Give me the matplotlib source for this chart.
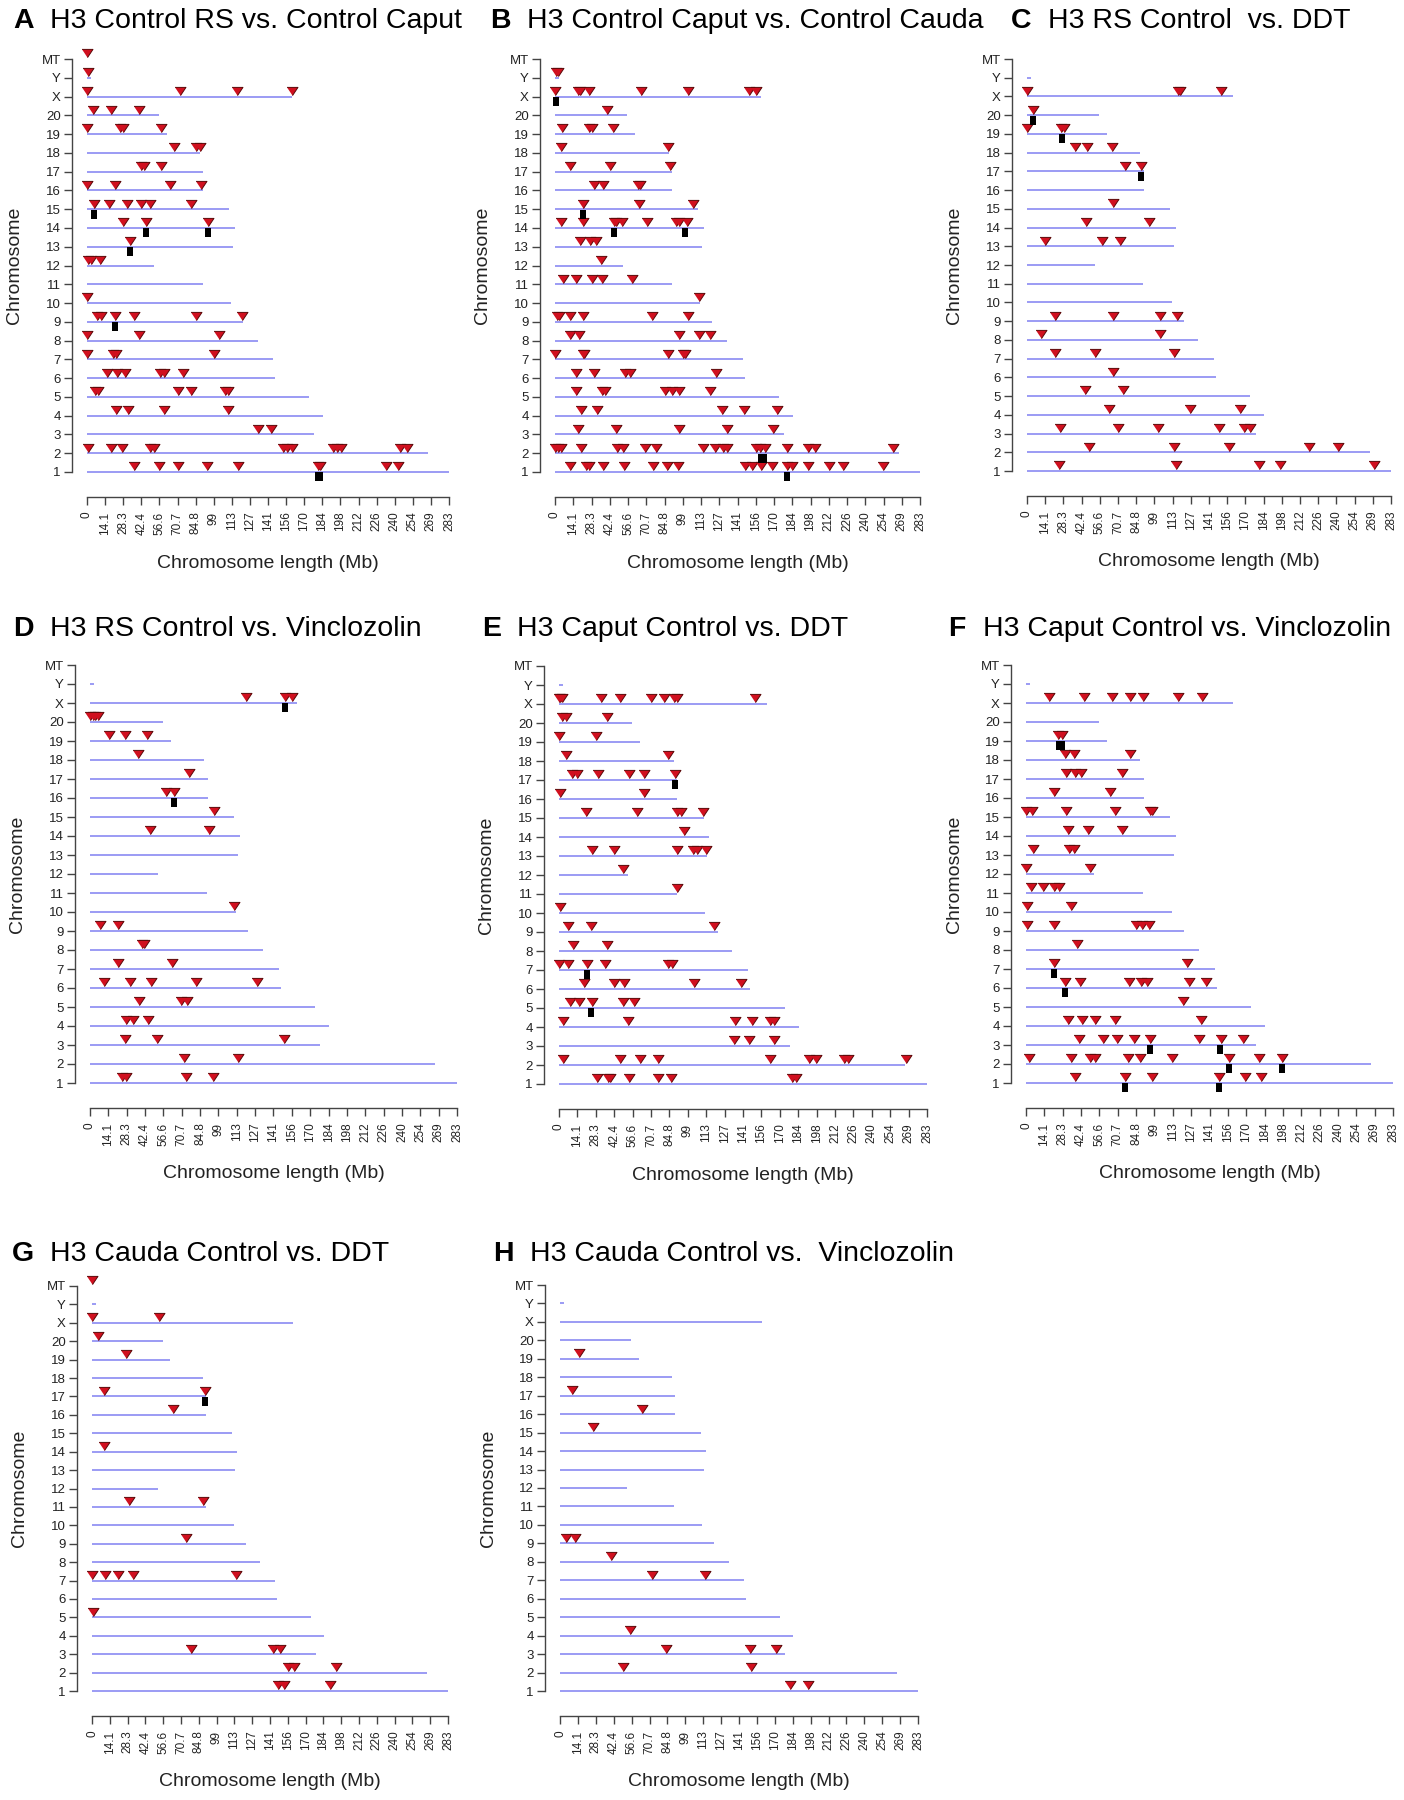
import numpy as np
import matplotlib
matplotlib.use("Agg")
import matplotlib.pyplot as plt

plt.rcParams["font.family"] = ["Liberation Sans", "DejaVu Sans"]

# chromosome order (bottom to top) and lengths in Mb (rat genome)
chrom_names = [str(i) for i in range(1, 21)] + ["X", "Y", "MT"]
chrom_len = [282.8, 266.4, 177.7, 184.2, 173.7, 147.0, 145.7, 133.3, 122.1, 112.6,
             90.5, 52.7, 114.0, 115.5, 111.2, 90.7, 90.8, 88.2, 62.3, 56.2,
             160.0, 3.3, 0.02]

xtick_vals = [283 * k / 20 for k in range(21)]
xtick_labels = ["0", "14.1", "28.3", "42.4", "56.6", "70.7", "84.8", "99", "113", "127",
                "141", "156", "170", "184", "198", "212", "226", "240", "254", "269", "283"]

# DMR sites (Mb) per chromosome, and DMR clusters
a_sites = {"MT": [0], "Y": [1], "X": [0, 73, 117, 160],
           "20": [5, 19, 40.5], "19": [0, 26, 28, 58], "18": [68, 85.5, 88], "17": [42.5, 44.5, 58],
           "16": [0, 21.5, 64.5, 89], "15": [5.5, 17.5, 31, 42, 49.5, 81], "14": [28, 46.5, 94.5],
           "13": [33.5], "12": [1, 3, 10], "10": [0], "9": [8, 11, 21.5, 37, 85, 121],
           "8": [0, 40.5, 103], "7": [0, 20, 22.5, 99], "6": [15.5, 23.5, 30, 57, 60, 75],
           "5": [6.5, 8.5, 71, 81, 107.5, 110], "4": [23, 32, 60, 110.5], "3": [134, 144],
           "2": [0.5, 19, 27.5, 49.5, 52, 153, 156, 160.5, 192, 195.5, 198.5, 245, 250],
           "1": [37, 56, 71.5, 94, 118, 180.5, 182.5, 234, 243.5]}
a_clusters = {"15": [5.5], "14": [46.5, 94.5], "13": [33.5], "9": [21.5], "1": [180.5, 182]}

b_sites = {"Y": [0.5, 2], "X": [0, 17.5, 19, 26, 66.5, 103.5, 150.5, 155.5], "20": [40.5],
           "19": [5.5, 26, 29, 45], "18": [5, 87.5], "17": [11.5, 43, 89], "16": [30, 37.5, 64.5, 66],
           "15": [22, 65, 107], "14": [4.5, 21.5, 45.5, 47, 52, 71, 94, 96, 102], "13": [19, 27, 32],
           "12": [35.5], "11": [6.5, 16, 29, 36.5, 60], "10": [112], "9": [1.5, 3, 11.5, 22, 75, 103],
           "8": [11.5, 18.5, 96.5, 112, 120.5], "7": [0, 21.5, 22.5, 88, 99, 100.5],
           "6": [16, 30, 54, 58, 125], "5": [16, 36.5, 39, 85, 91, 96.5, 120.5],
           "4": [20.5, 32.5, 129.5, 146.5, 172.5], "3": [17.5, 47, 96, 133, 169],
           "2": [0, 2.5, 5, 20.5, 48, 52.5, 70, 78, 114.5, 124, 130.5, 133, 156, 159, 163,
                 179.5, 196.5, 201.5, 262],
           "1": [11.5, 24, 26.5, 37.5, 53.5, 76, 86.5, 95.5, 147, 152.5, 160, 168.5, 179.5,
                 183.5, 196, 212.5, 223.5, 254]}
b_clusters = {"X": [0.5], "15": [21.5], "14": [45.5, 101], "2": [160, 162], "1": [179.5]}

c_sites = {"X": [0, 117.5, 119, 150.5], "20": [5], "19": [0, 26.5, 28.5], "18": [37, 47, 66],
           "17": [76.5, 89], "15": [66.5], "14": [46, 95], "13": [14, 58, 72],
           "9": [22, 67, 103.5, 116.5], "8": [10.5, 103.5], "7": [22, 53, 114.5], "6": [66.5],
           "5": [45, 74.5], "4": [63.5, 126.5, 165.5], "3": [26, 70.5, 102, 149.5, 169, 173.5],
           "2": [48.5, 114.5, 157, 219.5, 242], "1": [24.5, 116, 180, 196.5, 269.5]}
c_clusters = {"20": [5], "19": [27.5], "17": [89]}

d_sites = {"X": [120, 150.5, 156], "20": [0, 2, 4, 6], "19": [14.5, 27, 44], "18": [37],
           "17": [76.5], "16": [58.5, 64.5], "15": [95.5], "14": [46.5, 91.5], "10": [111],
           "9": [8, 21.5], "8": [40, 41.5], "7": [21.5, 63.5], "6": [11, 31, 47, 81.5, 128.5],
           "5": [38, 70.5, 74.5], "4": [27.5, 33, 44.5], "3": [27, 52, 149.5], "2": [72.5, 114.5],
           "1": [25, 28, 74, 95]}
d_clusters = {"X": [150.5], "16": [64.5]}

e_sites = {"X": [0, 1, 2.5, 32.5, 47, 70.5, 80.5, 88.5, 91, 150.5], "20": [2.5, 5, 37],
           "19": [0, 28.5], "18": [5, 84], "17": [10, 13.5, 30, 53.5, 65.5, 89.5], "16": [0.5, 65],
           "15": [21, 60, 90.5, 93.5, 110.5], "14": [96.5], "13": [25, 42.5, 90.5, 103, 106, 113],
           "12": [49], "11": [90.5], "10": [0.5], "9": [7, 24.5, 119], "8": [10.5, 37],
           "7": [0, 7, 21.5, 35, 84, 87], "6": [19.5, 42, 50, 104, 140], "5": [8.5, 15.5, 25, 49.5, 58],
           "4": [3, 53, 135.5, 148.5, 162.5, 165], "3": [134.5, 146, 165.5],
           "2": [3, 47, 62, 76.5, 162.5, 192.5, 197.5, 219, 222.5, 267],
           "1": [29.5, 37.5, 39, 54, 76.5, 86, 179, 182.5]}
e_clusters = {"17": [89.5], "7": [21.5], "5": [24.5]}

f_sites = {"X": [17.5, 44.5, 66, 80, 90, 117, 135.5], "19": [25, 28], "18": [30, 37, 80],
           "17": [31, 38, 42.5, 74], "16": [21.5, 64.5], "15": [0, 4.5, 31, 69, 95.5, 97.5],
           "14": [32.5, 48, 74], "13": [5.5, 33, 37], "12": [0, 49], "11": [3.5, 13, 21.5, 25.5],
           "10": [0.5, 34.5], "9": [1, 21.5, 84.5, 89.5, 95], "8": [39.5], "7": [21.5, 124.5],
           "6": [30, 41.5, 79.5, 89, 93.5, 125.5, 139], "5": [121], "4": [32.5, 43.5, 53, 69, 135],
           "3": [41, 59.5, 70, 83.5, 96, 133.5, 150, 167.5],
           "2": [2, 34.5, 49, 53.5, 78.5, 88, 112.5, 156.5, 179.5, 197.5],
           "1": [37.5, 76.5, 97.5, 149, 169, 181.5]}
f_clusters = {"19": [25.5, 27.5], "7": [21.5], "6": [30], "3": [96, 149.5], "2": [156.5, 197.5],
              "1": [76.5, 148.5]}

g_sites = {"MT": [0], "X": [0, 53.5], "20": [5], "19": [27], "17": [9.5, 89.5], "16": [64.5],
           "14": [9.5], "11": [29.5, 88], "9": [75], "7": [0, 10, 21, 32.5, 114.5], "5": [0.5],
           "3": [79, 144, 149.5], "2": [155.5, 160.5, 194], "1": [148, 152.5, 189.5]}
g_clusters = {"17": [89.5]}

h_sites = {"19": [15], "17": [9.5], "16": [64.5], "15": [26], "9": [4.5, 12], "8": [40],
           "7": [73, 114.5], "4": [55], "3": [83.5, 150, 170.5], "2": [49.5, 151], "1": [181.5, 196]}
h_clusters = {}

W, H = 1404, 1800
LINE_COLOR = "#8a8af2"
TRI = [(-1, 0.75), (1, 0.75), (0, -0.75)]
BAR = [(-0.35, 0), (0.35, 0), (0.35, -1), (-0.35, -1)]


def draw_panel(fig, box, letter, letter_x, title, title_x, title_y, sites, clusters):
    x0, x1, ytop, ybot = box
    ax = fig.add_axes([x0 / W, 1 - ybot / H, (x1 - x0) / W, (ybot - ytop) / H])
    ys = np.arange(1, len(chrom_names) + 1)
    ax.hlines(ys, 0, chrom_len, color=LINE_COLOR, lw=1.2, zorder=1, clip_on=False)
    for name, pos in sites.items():
        y = chrom_names.index(name) + 1
        ax.scatter(pos, [y + 0.3] * len(pos), marker=TRI, s=62, facecolor="#d0101f",
                   edgecolor="#5a0808", linewidths=0.7, zorder=3, clip_on=False)
    for name, pos in clusters.items():
        y = chrom_names.index(name) + 1
        ax.scatter(pos, [y - 0.02] * len(pos), marker=BAR, s=180, color="black",
                   linewidths=0, zorder=4, clip_on=False)

    ax.set_xlim(0, 283)
    ax.set_ylim(1, 23)
    ax.patch.set_visible(False)
    for s in ["top", "right"]:
        ax.spines[s].set_visible(False)
    ax.spines["left"].set_position(("outward", 11))
    ax.spines["bottom"].set_position(("outward", 18))
    ax.spines["left"].set_bounds(1, 23)
    ax.spines["bottom"].set_bounds(0, 283)
    for s in ["left", "bottom"]:
        ax.spines[s].set_color("#444444")
        ax.spines[s].set_linewidth(1.0)
    ax.set_xticks(xtick_vals)
    ax.set_xticklabels(xtick_labels, rotation=90, fontsize=8.5, color="#222222")
    ax.set_yticks(ys)
    ax.set_yticklabels(chrom_names, fontsize=9.5, color="#222222")
    ax.tick_params(axis="x", length=5.5, width=1.0, color="#444444", pad=5)
    ax.tick_params(axis="y", length=6, width=1.0, color="#444444", pad=2)

    fig.text(letter_x / W, 1 - title_y / H, letter, fontsize=20.5, fontweight="bold", va="center")
    fig.text(title_x / W, 1 - title_y / H, title, fontsize=20.5, va="center")
    fig.text((x0 + x1) / 2 / W, 1 - (ybot + 91) / H, "Chromosome length (Mb)",
             fontsize=14, ha="center", va="center", color="#222222")
    fig.text((x0 - 72) / W, 1 - (ytop + ybot) / 2 / H, "Chromosome", rotation=90,
             fontsize=14, ha="center", va="center", color="#222222")
    return ax


fig = plt.figure(figsize=(W / 100, H / 100), dpi=100)

draw_panel(fig, (87, 449, 59, 472), "A", 13, "H3 Control RS vs. Control Caput", 50, 21,
           a_sites, a_clusters)
draw_panel(fig, (555, 920, 59, 472), "B", 490, "H3 Control Caput vs. Control Cauda", 527, 21,
           b_sites, b_clusters)
draw_panel(fig, (1027, 1391, 59, 471), "C", 1011, "H3 RS Control  vs. DDT", 1048, 21,
           c_sites, c_clusters)
draw_panel(fig, (90, 457, 665, 1083), "D", 13, "H3 RS Control vs. Vinclozolin", 50, 629,
           d_sites, d_clusters)
draw_panel(fig, (559, 927, 666, 1084), "E", 482, "H3 Caput Control vs. DDT", 517, 629,
           e_sites, e_clusters)
draw_panel(fig, (1026, 1393, 665, 1083), "F", 948, "H3 Caput Control vs. Vinclozolin", 983, 629,
           f_sites, f_clusters)
draw_panel(fig, (92, 448, 1286, 1691), "G", 12, "H3 Cauda Control vs. DDT", 50, 1254,
           g_sites, g_clusters)
draw_panel(fig, (560, 918, 1285, 1691), "H", 493, "H3 Cauda Control vs.  Vinclozolin", 530, 1254,
           h_sites, h_clusters)

fig.savefig("out.png", dpi=100)
